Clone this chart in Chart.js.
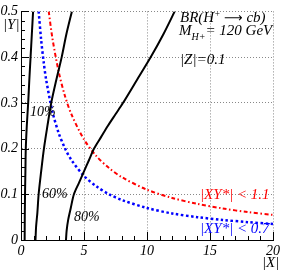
<!DOCTYPE html>
<html><head><meta charset="utf-8">
<script src="https://cdn.jsdelivr.net/npm/chart.js@4/dist/chart.umd.min.js"></script>
<style>
html,body{margin:0;padding:0;background:#fff;}
#wrap{position:relative;width:283px;height:270px;overflow:hidden;}
canvas{position:absolute;left:0;top:0;}
.t{position:absolute;font-family:"Liberation Serif","Times New Roman",serif;font-style:italic;font-size:15px;line-height:1;white-space:nowrap;color:#000;}
.t sup{font-size:9px;vertical-align:6px;line-height:0;}
.t sub{font-size:10px;vertical-align:-5px;line-height:0;}
.arr{font-family:"DejaVu Sans",sans-serif;font-style:normal;font-size:13px;}
</style></head>
<body>
<div id="wrap">
<canvas id="c" width="283" height="270"></canvas>
<div class="t" style="left:3px;top:17px;">|Y|</div>
<div class="t" style="left:262px;top:255px;">|X|</div>
<div class="t" style="left:180px;top:10px;">BR(H<sup>+</sup> <span class="arr">⟶</span> cb)</div>
<div class="t" style="left:179px;top:23px;">M<sub>H+</sub>= 120 GeV</div>
<div class="t" style="left:180px;top:52px;">|Z|=0.1</div>
<div class="t" style="left:30px;top:105px;font-size:14px;">10%</div>
<div class="t" style="left:42px;top:187px;font-size:14px;">60%</div>
<div class="t" style="left:74px;top:210px;font-size:14px;">80%</div>
<div class="t" style="left:200px;top:187px;color:#ff0000;">|XY*| &lt; 1.1</div>
<div class="t" style="left:200px;top:221px;color:#0000ff;">|XY*| &lt; 0.7</div>
</div>
<script>
// Contour curves (|X| values, |Y| values)
const c10X = [0.29, 0.30, 0.32, 0.35, 0.38, 0.46, 0.57, 0.66, 0.76, 0.86, 0.96];
const c10Y = [0.00, 0.05, 0.10, 0.15, 0.20, 0.25, 0.30, 0.35, 0.40, 0.45, 0.50];
const c60X = [1.15, 1.20, 1.30, 1.40, 1.60, 1.82, 2.10, 2.40, 2.80, 3.23, 3.60, 4.04];
const c60Y = [0.00, 0.03, 0.06, 0.10, 0.15, 0.20, 0.25, 0.30, 0.35, 0.40, 0.45, 0.50];
const c80X = [3.57, 3.62, 3.75, 3.95, 4.20, 4.60, 5.00, 5.40, 5.80, 6.35, 6.90, 7.50, 8.10, 9.20, 10.3, 11.3, 12.2];
const c80Y = [0.00, 0.02, 0.045, 0.07, 0.10, 0.125, 0.15, 0.175, 0.20, 0.225, 0.25, 0.275, 0.30, 0.35, 0.40, 0.45, 0.50];
// |XY*| bounds
const redX  = [2.2, 2.5, 3.0, 3.5, 4.0, 5.0, 6.0, 7.0, 8.0, 10.0, 12.0, 14.0, 16.0, 18.0, 20.0];
const redY  = [0.50, 0.44, 0.367, 0.314, 0.275, 0.22, 0.183, 0.157, 0.1375, 0.11, 0.092, 0.079, 0.069, 0.061, 0.055];
const blueX = [1.4, 1.6, 1.8, 2.0, 2.5, 3.0, 3.5, 4.0, 5.0, 6.0, 7.0, 8.0, 10.0, 12.0, 14.0, 16.0, 18.0, 20.0];
const blueY = [0.50, 0.4375, 0.389, 0.35, 0.28, 0.233, 0.20, 0.175, 0.14, 0.117, 0.10, 0.0875, 0.07, 0.058, 0.05, 0.044, 0.039, 0.035];
// Axis ticks
const xTicks = [0, 5, 10, 15, 20];
const yTicks = [0, 0.1, 0.2, 0.3, 0.4, 0.5];

const pts = (xs, ys) => xs.map((x, i) => ({x: x, y: ys[i]}));
const FONT = '"Liberation Serif","Times New Roman",serif';

const black = (xs, ys) => ({data: pts(xs, ys), borderColor: '#000', borderWidth: 2, pointRadius: 0, showLine: true, tension: 0.3, fill: false});

const minorTicks = {
  id: 'minorTicks',
  afterDatasetsDraw(chart) {
    const ctx = chart.ctx, xs = chart.scales.x, ys = chart.scales.y;
    const a = chart.chartArea;
    ctx.save();
    ctx.strokeStyle = '#000';
    ctx.lineWidth = 1;
    ctx.setLineDash([]);
    ctx.beginPath();
    for (let v = 0; v <= 20; v += 1) {
      const px = Math.round(xs.getPixelForValue(v)) + 0.5;
      const len = (v % 5 === 0) ? 8 : 4;
      ctx.moveTo(px, a.bottom); ctx.lineTo(px, a.bottom - len);
    }
    for (let k = 0; k <= 25; k++) {
      const v = k * 0.02;
      const py = Math.round(ys.getPixelForValue(v)) + 0.5;
      const len = (k % 5 === 0) ? 8 : 4;
      ctx.moveTo(a.left, py); ctx.lineTo(a.left + len, py);
    }
    ctx.stroke();
    ctx.restore();
  }
};

new Chart(document.getElementById('c'), {
  type: 'scatter',
  data: {
    datasets: [
      black(c10X, c10Y),
      black(c60X, c60Y),
      black(c80X, c80Y),
      {data: pts(redX, redY), borderColor: '#ff0000', borderWidth: 2, borderDash: [4, 2.5, 1.5, 2.5], pointRadius: 0, showLine: true, tension: 0.3, fill: false},
      {data: pts(blueX, blueY), borderColor: '#0000ff', borderWidth: 2.5, borderDash: [2.5, 2.5], pointRadius: 0, showLine: true, tension: 0.3, fill: false}
    ]
  },
  options: {
    responsive: false,
    animation: false,
    devicePixelRatio: 1,
    layout: {padding: {top: 4, right: 6, left: 0, bottom: 0}},
    plugins: {legend: {display: false}, tooltip: {enabled: false}},
    scales: {
      x: {
        type: 'linear', min: 0, max: 20,
        afterFit: s => { s.height = 30; },
        afterBuildTicks: s => { s.ticks = xTicks.map(v => ({value: v})); },
        grid: {color: '#888', lineWidth: 1, drawTicks: false, tickLength: 0},
        border: {display: true, color: '#000', width: 1, dash: [1, 2]},
        ticks: {padding: 3, color: '#000', font: {family: FONT, style: 'italic', size: 14}, maxRotation: 0, callback: v => String(v)}
      },
      y: {
        type: 'linear', min: 0, max: 0.5,
        afterFit: s => { s.width = 21; },
        afterBuildTicks: s => { s.ticks = yTicks.map(v => ({value: v})); },
        grid: {color: '#888', lineWidth: 1, drawTicks: false, tickLength: 0},
        border: {display: true, color: '#000', width: 1, dash: [1, 2]},
        ticks: {padding: 3, color: '#000', font: {family: FONT, style: 'italic', size: 14}, callback: v => String(Math.round(v * 10) / 10)}
      }
    }
  },
  plugins: [minorTicks]
});
</script>
</body></html>
